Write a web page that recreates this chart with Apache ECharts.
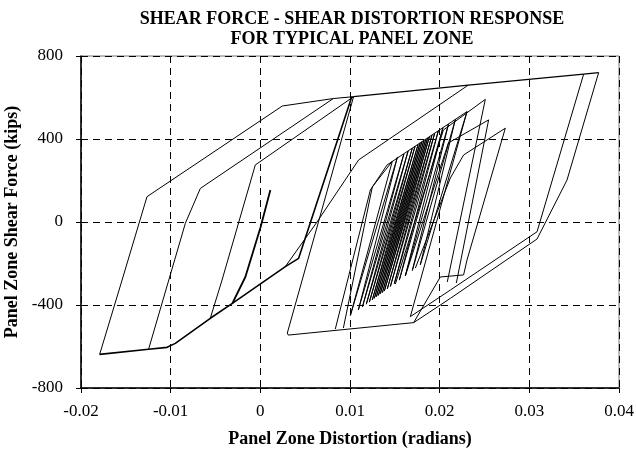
<!DOCTYPE html>
<html>
<head>
<meta charset="utf-8">
<title>Panel zone response</title>
<script src="https://cdn.jsdelivr.net/npm/echarts@6/dist/echarts.min.js"></script>
<style>
html, body { margin: 0; padding: 0; background: #fff; }
#main { width: 636px; height: 450px; }
</style>
</head>
<body>
<div id="main"></div>
<script>
// axis ranges / tick labels
var xTicks = [-0.02, -0.01, 0, 0.01, 0.02, 0.03, 0.04];
var yTicks = [-800, -400, 0, 400, 800];

// [distortion (rad), shear force (kips)]
// first elastic cycle near origin
var elasticPath = [[0.00112, 154], [0, -29], [-0.00167, -265], [-0.00312, -392]];
// descending branch shared by the early cycles
var diagPath = [[-0.01792, -638], [-0.01246, -613], [-0.0104, -604], [-0.00948, -585], [-0.00558, -464],
  [-0.00312, -392], [0.00279, -215], [0.00427, -175], [0.0102, 604]];
// early reloading branches
var loopA = [[-0.01792, -638], [-0.01542, -280], [-0.01264, 122], [0.00245, 559], [0.00814, 595], [0.0104, 604]];
var loopB = [[-0.01246, -613], [-0.00836, -6], [-0.00669, 162], [0.00814, 595]];
var loopC = [[-0.00558, -464], [-0.00427, -280], [-0.00056, 275], [0.0104, 604]];
// positive yield plateau
var topPath = [[0.0104, 604], [0.0232, 660], [0.03606, 713], [0.03773, 720]];
var steepPath = [[0.0104, 604], [0.00301, -535]];
var loadPath = [[0.00279, -215], [0.00632, 0], [0.01096, 299], [0.0232, 660]];
// negative plateau under the middle cycles
var plateauPath = [[0.00301, -535], [0.00312, -545], [0.0171, -485]];
// the many small cycles between 0.01 and 0.023
var clusterPath = [[0.00926, -511], [0.01249, 169], [0.01472, 293], [0.01004, -451], [0.01528, 312],
  [0.01093, -424], [0.01601, 328], [0.01138, -410], [0.01648, 342], [0.01182, -396], [0.01694, 355],
  [0.01216, -386], [0.01726, 366], [0.01249, -375], [0.01759, 373], [0.01271, -368], [0.01782, 381],
  [0.01294, -360], [0.01802, 387], [0.01316, -354], [0.01824, 393], [0.01338, -346], [0.01845, 399],
  [0.01361, -340], [0.01865, 404], [0.01383, -333], [0.01885, 410], [0.01416, -322], [0.01914, 418],
  [0.0145, -311], [0.01944, 427], [0.01494, -297], [0.01985, 439], [0.0155, -280], [0.02036, 454],
  [0.01617, -259], [0.02099, 472], [0.01695, -234], [0.02175, 494], [0.01784, -206], [0.02305, 532],
  [0.01673, -456]];
var edgePath = [[0.00836, -516], [0.01227, 154], [0.01413, 275], [0.02305, 532]];
// three larger cycles right of the cluster
var peak1Path = [[0.01506, -299], [0.02041, 443], [0.02509, 591], [0.02085, -289]];
var peak2Path = [[0.01617, -260], [0.02097, 381], [0.02546, 492], [0.02186, -294]];
var peak3Path = [[0.01729, -222], [0.02119, 212], [0.02267, 323], [0.02732, 452], [0.02305, -183],
  [0.02267, -255], [0.02007, -265], [0.0171, -485]];
// largest cycles
var rightLower = [[0.0171, -485], [0.02119, -368], [0.03086, -82], [0.0342, 202], [0.03773, 720]];
var rightUpper = [[0.01673, -456], [0.02119, -328], [0.03086, -47], [0.03606, 713]];

var serif = "'Liberation Serif', 'Times New Roman', serif";

function mkLine(data, w) {
  return {
    type: 'line',
    data: data,
    showSymbol: false,
    symbol: 'none',
    silent: true,
    lineStyle: { color: '#000', width: w || 1 },
    animation: false
  };
}

var seriesList = [
  mkLine(elasticPath, 1.8),
  mkLine(diagPath, 1.6),
  mkLine(loopA), mkLine(loopB), mkLine(loopC),
  mkLine(topPath, 1.2),
  mkLine(steepPath),
  mkLine(loadPath),
  mkLine(plateauPath),
  mkLine(clusterPath),
  mkLine(edgePath),
  mkLine(peak1Path), mkLine(peak2Path), mkLine(peak3Path),
  mkLine(rightLower), mkLine(rightUpper)
];

var chart = echarts.init(document.getElementById('main'), null, { renderer: 'canvas' });
chart.setOption({
  backgroundColor: '#fff',
  animation: false,
  title: {
    text: 'SHEAR FORCE - SHEAR DISTORTION RESPONSE\nFOR TYPICAL PANEL ZONE',
    left: 347,
    top: 4,
    textAlign: 'center',
    textStyle: { fontFamily: serif, fontWeight: 'bold', fontSize: 18, lineHeight: 20, color: '#000' }
  },
  grid: {
    left: 81, right: 17, top: 56, bottom: 62,
    containLabel: false,
    outerBoundsMode: 'none',
    show: true, borderColor: '#777', borderWidth: 1, backgroundColor: 'transparent'
  },
  xAxis: {
    type: 'value',
    min: xTicks[0],
    max: xTicks[xTicks.length - 1],
    interval: 0.01,
    name: 'Panel Zone Distortion (radians)',
    nameLocation: 'middle',
    nameGap: 42,
    nameTextStyle: { fontFamily: serif, fontWeight: 'bold', fontSize: 18, color: '#000' },
    axisLine: { onZero: false, lineStyle: { color: '#000', width: 1.5 } },
    axisTick: { show: true, length: 5, lineStyle: { color: '#000' } },
    axisLabel: {
      fontFamily: serif, fontSize: 17, color: '#000', margin: 15,
      formatter: function (v) { return String(+v.toFixed(2)); }
    },
    splitLine: { show: true, lineStyle: { color: '#000', type: [7, 5], width: 1 } }
  },
  yAxis: {
    type: 'value',
    min: yTicks[0],
    max: yTicks[yTicks.length - 1],
    interval: 400,
    name: 'Panel Zone Shear Force (kips)',
    nameLocation: 'middle',
    nameGap: 54,
    nameTextStyle: { fontFamily: serif, fontWeight: 'bold', fontSize: 18, color: '#000' },
    axisLine: { onZero: false, lineStyle: { color: '#000', width: 1.5 } },
    axisTick: { show: true, length: 5, lineStyle: { color: '#000' } },
    axisLabel: { fontFamily: serif, fontSize: 17, color: '#000', margin: 18 },
    splitLine: { show: true, lineStyle: { color: '#000', type: [7, 5], width: 1 } }
  },
  series: seriesList
});
</script>
</body>
</html>
